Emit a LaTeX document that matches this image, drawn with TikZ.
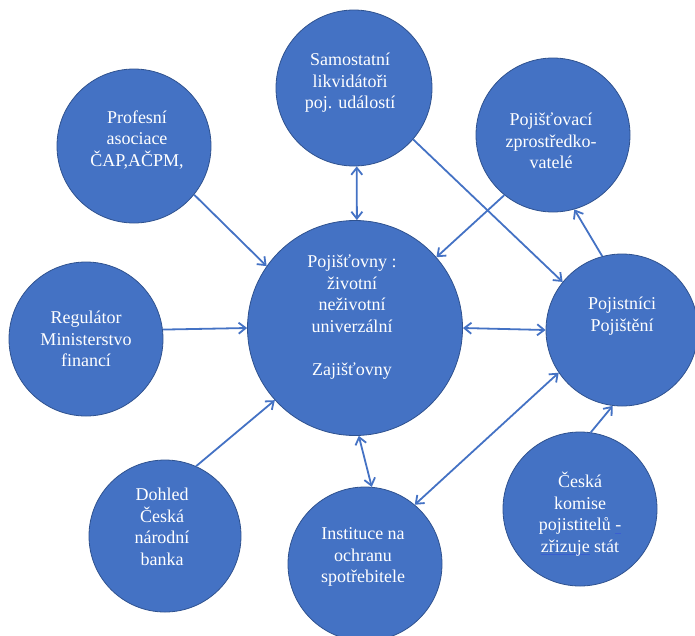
\documentclass[tikz,border=0pt]{standalone}
\usepackage{fontspec}
\setmainfont{Liberation Serif}
\usetikzlibrary{arrows.meta}
\definecolor{cfill}{HTML}{4472C4}
\definecolor{cline}{HTML}{2F528F}
\definecolor{carrow}{HTML}{4472C4}
\definecolor{cspell}{HTML}{3A5FD0}
\newcommand\spellul[1]{\sbox0{#1}\rlap{\color{cspell}\rule[-3pt]{\wd0}{0.8pt}}#1}
\begin{document}
\begin{tikzpicture}[x=1pt,y=-1pt,
  circ/.style={circle,fill=cfill,draw=cline,line width=0.8pt,inner sep=0pt},
  txt/.style={text=white,align=center,font=\fontsize{18}{21.5}\selectfont,inner sep=0pt},
  conn/.style={draw=carrow,line width=1.8pt,-{Straight Barb[length=7pt,width=11pt]}},
  conntwo/.style={draw=carrow,line width=1.8pt,{Straight Barb[length=7pt,width=11pt]}-{Straight Barb[length=7pt,width=11pt]}}]
\useasboundingbox (0,0) rectangle (695,635);
% circles
\node[circ,minimum size=156pt] (sam) at (354,88) {};
\node[circ,minimum size=154pt] (zpr) at (553,135) {};
\node[circ,minimum size=154pt] (prof) at (134,146) {};
\node[circ,minimum size=154pt] (reg) at (86,339) {};
\node[circ,minimum size=215pt] (c) at (355,328) {};
\node[circ,minimum size=152pt] (pst) at (622,330) {};
\node[circ,minimum size=152pt] (doh) at (165,536) {};
\node[circ,minimum size=154pt] (inst) at (365,564) {};
\node[circ,minimum size=154pt] (cka) at (580,509) {};
% texts
\node[txt] (samt) at ([xshift=-4pt,yshift=5pt]sam.center) {Samostatní\\likvidátoři\\poj. událostí};
\node[txt] (zprt) at ([xshift=-2pt,yshift=-6pt]zpr.center) {Pojišťovací\\zprostředko-\\vatelé};
\node[txt] (proft) at ([xshift=3pt,yshift=6pt]prof.center) {Profesní\\asociace\\ČAP,AČPM,};
\node[txt] (regt) at (reg.center) {Regulátor\\Ministerstvo\\financí};
\node[txt] (ct) at ([xshift=-3pt,yshift=11pt]c.center) {Pojišťovny :\\životní\\neživotní\\univerzální\\[21.5pt]Zajišťovny};
\node[txt] (pstt) at ([yshift=14pt]pst.center) {Pojistníci\\Pojištění};
\node[txt] (doht) at ([xshift=-3pt,yshift=9pt]doh.center) {Dohled\\Česká\\národní\\banka};
\node[txt] (instt) at ([xshift=-2pt,yshift=7pt]inst.center) {Instituce na\\ochranu\\spotřebitele};
\node[txt] (ckat) at ([yshift=-5pt]cka.center) {Česká\\komise\\pojistitelů \spellul{-}\\\spellul{zřizuje} stát};
% connectors
\draw[conn] (prof.-39) -- (c.145);
\draw[conn] (reg.7) -- (c.180);
\draw[conn] (doh.66) -- (c.-138);
\draw[conntwo] (sam.-88) -- (c.89);
\draw[conn] (sam.-41) -- (pst.141);
\draw[conn] (zpr.-129) -- (c.41);
\draw[conn] (pst.105) -- (zpr.-74);
\draw[conntwo] (c.0) -- (pst.180);
\draw[conntwo] (c.-88) -- (inst.85);
\draw[conntwo] (inst.50) -- (pst.-146);
\draw[conn] (cka.82) -- (pst.-97);
\end{tikzpicture}
\end{document}
